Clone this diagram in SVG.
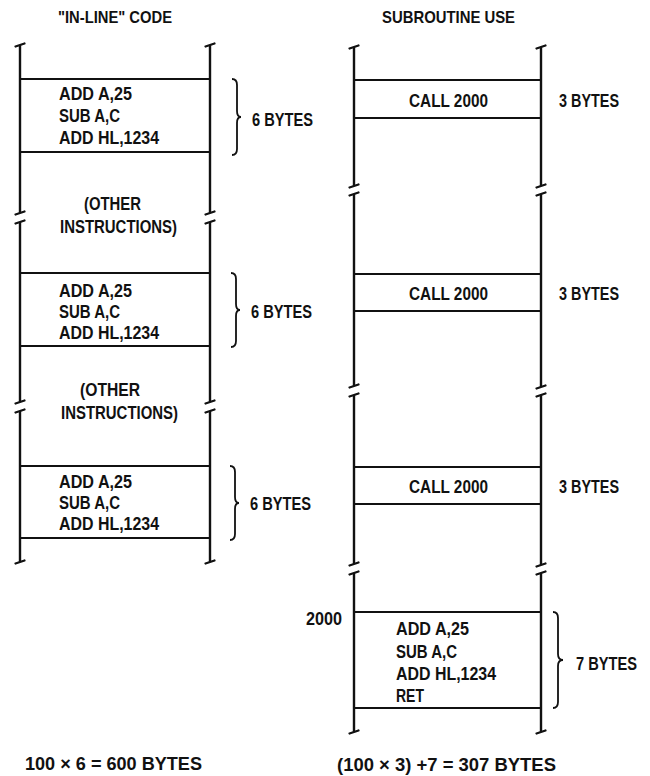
<svg xmlns="http://www.w3.org/2000/svg" width="650" height="776" viewBox="0 0 650 776">
<style>
text{font-family:"Liberation Sans Narrow","Liberation Sans",Arial,sans-serif;font-weight:bold;font-size:18px;fill:#111}
.t{font-size:17px}
.v{stroke:#111;stroke-width:2.4;fill:none}
.h{stroke:#111;stroke-width:2.2;fill:none}
.k{stroke:#111;stroke-width:2.2;fill:none;stroke-linecap:round}
.b{stroke:#111;stroke-width:1.8;fill:none}
</style>
<rect width="650" height="776" fill="#fff"/>

<g id="title-inline"><text class="t" x="58" y="23" textLength="114" lengthAdjust="spacingAndGlyphs">&quot;IN-LINE&quot; CODE</text></g>
<g id="title-subroutine"><text class="t" x="382" y="23" textLength="133" lengthAdjust="spacingAndGlyphs">SUBROUTINE USE</text></g>

<g id="frame-inline">
<path class="v" d="M20,45V213M210,45V213M20,222V402M210,222V402M20,411V562M210,411V562"/>
<path class="k" d="M15.5,46.5L24.5,43.5M205.5,46.5L214.5,43.5M15.5,214.5L24.5,211.5M205.5,214.5L214.5,211.5M15.5,223.5L24.5,220.5M205.5,223.5L214.5,220.5M15.5,403.5L24.5,400.5M205.5,403.5L214.5,400.5M15.5,412.5L24.5,409.5M205.5,412.5L214.5,409.5M15.5,563.5L24.5,560.5M205.5,563.5L214.5,560.5"/>
</g>

<g id="inline-block-1">
<path class="h" d="M20,79H210M20,152H210"/>
<text x="59" y="100" textLength="73" lengthAdjust="spacingAndGlyphs">ADD A,25</text>
<text x="59" y="122" textLength="61" lengthAdjust="spacingAndGlyphs">SUB A,C</text>
<text x="59" y="144" textLength="100" lengthAdjust="spacingAndGlyphs">ADD HL,1234</text>
</g>
<g id="other-1">
<text x="84" y="210" textLength="57" lengthAdjust="spacingAndGlyphs">(OTHER</text>
<text x="60" y="233" textLength="117" lengthAdjust="spacingAndGlyphs">INSTRUCTIONS)</text>
</g>
<g id="inline-block-2">
<path class="h" d="M20,273H210M20,346H210"/>
<text x="59" y="297" textLength="73" lengthAdjust="spacingAndGlyphs">ADD A,25</text>
<text x="59" y="318" textLength="61" lengthAdjust="spacingAndGlyphs">SUB A,C</text>
<text x="59" y="339" textLength="100" lengthAdjust="spacingAndGlyphs">ADD HL,1234</text>
</g>
<g id="other-2">
<text x="80" y="396" textLength="60" lengthAdjust="spacingAndGlyphs">(OTHER</text>
<text x="61" y="419" textLength="117" lengthAdjust="spacingAndGlyphs">INSTRUCTIONS)</text>
</g>
<g id="inline-block-3">
<path class="h" d="M20,466H210M20,538H210"/>
<text x="59" y="488" textLength="73" lengthAdjust="spacingAndGlyphs">ADD A,25</text>
<text x="59" y="509" textLength="61" lengthAdjust="spacingAndGlyphs">SUB A,C</text>
<text x="59" y="530" textLength="100" lengthAdjust="spacingAndGlyphs">ADD HL,1234</text>
</g>

<g id="frame-subroutine">
<path class="v" d="M354,47V186M541,47V186M354,194V386M541,194V387M354,395V564M541,395V565M354,573V732M541,573V732"/>
<path class="k" d="M349.5,48.5L358.5,45.5M536.5,48.5L545.5,45.5M349.5,187.5L358.5,184.5M536.5,187.5L545.5,184.5M349.5,195.5L358.5,192.5M536.5,195.5L545.5,192.5M349.5,387.5L358.5,384.5M536.5,388.5L545.5,385.5M349.5,396.5L358.5,393.5M536.5,396.5L545.5,393.5M349.5,565.5L358.5,562.5M536.5,566.5L545.5,563.5M349.5,574.5L358.5,571.5M536.5,574.5L545.5,571.5M349.5,733.5L358.5,730.5M536.5,733.5L545.5,730.5"/>
</g>

<g id="call-1">
<path class="h" d="M354,80H541M354,118H541"/>
<text x="409" y="107" textLength="79" lengthAdjust="spacingAndGlyphs">CALL 2000</text>
</g>
<g id="call-2">
<path class="h" d="M354,274H541M354,311H541"/>
<text x="409" y="300" textLength="79" lengthAdjust="spacingAndGlyphs">CALL 2000</text>
</g>
<g id="call-3">
<path class="h" d="M354,467H541M354,504H541"/>
<text x="409" y="493" textLength="79" lengthAdjust="spacingAndGlyphs">CALL 2000</text>
</g>
<g id="subroutine-block">
<path class="h" d="M354,612H541M354,708H541"/>
<text x="306" y="625" textLength="36" lengthAdjust="spacingAndGlyphs">2000</text>
<text x="396" y="635" textLength="73" lengthAdjust="spacingAndGlyphs">ADD A,25</text>
<text x="396" y="658" textLength="61" lengthAdjust="spacingAndGlyphs">SUB A,C</text>
<text x="396" y="680" textLength="100" lengthAdjust="spacingAndGlyphs">ADD HL,1234</text>
<text x="396" y="702" textLength="28" lengthAdjust="spacingAndGlyphs">RET</text>
</g>

<g id="connectors">
<path class="b" d="M232,79Q237,79 237,85L237,111Q237,117 241,117Q237,117 237,123L237,149Q237,155 232,155"/>
<path class="b" d="M231,273Q236,273 236,279L236,304Q236,310 240,310Q236,310 236,316L236,341Q236,347 231,347"/>
<path class="b" d="M230,466Q235,466 235,472L235,497Q235,503 239,503Q235,503 235,509L235,534Q235,540 230,540"/>
<path class="b" d="M553,612Q558,612 558,618L558,654Q558,660 563,660Q558,660 558,666L558,702Q558,708 553,708"/>
</g>

<g id="size-labels">
<text x="252" y="126" textLength="61" lengthAdjust="spacingAndGlyphs">6 BYTES</text>
<text x="251" y="318" textLength="61" lengthAdjust="spacingAndGlyphs">6 BYTES</text>
<text x="250" y="510" textLength="61" lengthAdjust="spacingAndGlyphs">6 BYTES</text>
<text x="559" y="107" textLength="60" lengthAdjust="spacingAndGlyphs">3 BYTES</text>
<text x="559" y="300" textLength="60" lengthAdjust="spacingAndGlyphs">3 BYTES</text>
<text x="559" y="493" textLength="60" lengthAdjust="spacingAndGlyphs">3 BYTES</text>
<text x="576" y="670" textLength="61" lengthAdjust="spacingAndGlyphs">7 BYTES</text>
</g>

<g id="totals">
<text x="25" y="770" textLength="177" lengthAdjust="spacingAndGlyphs">100 × 6 = 600 BYTES</text>
<text x="337" y="771" textLength="219" lengthAdjust="spacingAndGlyphs">(100 × 3) +7 = 307 BYTES</text>
</g>
</svg>
